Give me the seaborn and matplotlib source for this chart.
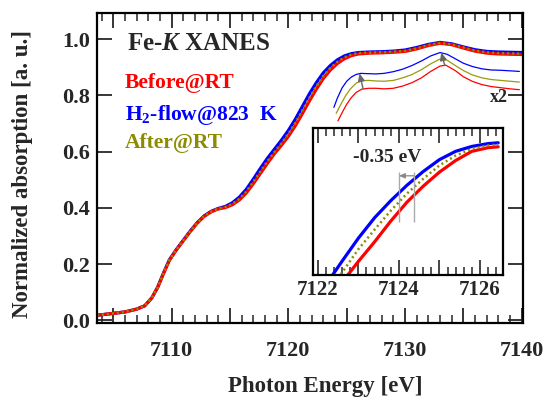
import matplotlib
matplotlib.use("Agg")
import matplotlib.pyplot as plt
from matplotlib.ticker import MultipleLocator, FuncFormatter
import seaborn as sns

# ---- Fe-K edge XANES, normalized ----
energy = [7103.6, 7105.0, 7106.0, 7107.0, 7107.7, 7108.3, 7108.8, 7109.3, 7109.8, 7110.4,
          7111.0, 7111.6, 7112.2, 7112.8, 7113.4, 7114.0, 7114.6, 7115.2, 7115.8, 7116.4,
          7117.0, 7117.6, 7118.2, 7118.8, 7119.4, 7120.0, 7120.6, 7121.2, 7121.8, 7122.4,
          7123.0, 7123.6, 7124.2, 7124.8, 7125.4, 7126.0, 7127.0, 7128.0, 7129.0, 7130.0,
          7131.0, 7132.0, 7133.0, 7134.0, 7135.0, 7136.0, 7137.0, 7138.0, 7139.0, 7140.1]

h2_flow = [0.018, 0.025, 0.030, 0.040, 0.052, 0.080, 0.118, 0.168, 0.215, 0.252,
           0.285, 0.318, 0.348, 0.372, 0.388, 0.398, 0.405, 0.418, 0.438, 0.466,
           0.502, 0.540, 0.576, 0.608, 0.640, 0.675, 0.715, 0.760, 0.805, 0.845,
           0.880, 0.906, 0.926, 0.940, 0.948, 0.952, 0.954, 0.955, 0.957, 0.961,
           0.970, 0.981, 0.988, 0.983, 0.972, 0.962, 0.956, 0.954, 0.953, 0.952]

before_rt = [0.018, 0.025, 0.030, 0.040, 0.052, 0.080, 0.117, 0.166, 0.213, 0.250,
             0.283, 0.316, 0.346, 0.370, 0.386, 0.396, 0.401, 0.411, 0.428, 0.453,
             0.486, 0.522, 0.558, 0.592, 0.622, 0.654, 0.692, 0.735, 0.780, 0.822,
             0.860, 0.890, 0.913, 0.930, 0.941, 0.947, 0.950, 0.951, 0.953, 0.956,
             0.965, 0.977, 0.985, 0.980, 0.968, 0.957, 0.950, 0.947, 0.946, 0.945]

after_rt = [0.018, 0.025, 0.030, 0.040, 0.052, 0.080, 0.117, 0.167, 0.214, 0.251,
            0.284, 0.317, 0.347, 0.371, 0.387, 0.397, 0.403, 0.414, 0.432, 0.458,
            0.493, 0.529, 0.565, 0.598, 0.629, 0.663, 0.702, 0.746, 0.791, 0.832,
            0.869, 0.897, 0.919, 0.935, 0.945, 0.950, 0.952, 0.953, 0.955, 0.958,
            0.967, 0.979, 0.986, 0.981, 0.970, 0.959, 0.953, 0.950, 0.949, 0.948]

# ---- post-edge region, difference magnified x2 and offset ----
x2_energy_h2 = [7123.9, 7124.2, 7124.6, 7125.0, 7125.4, 7125.8, 7126.2, 7126.8, 7127.5, 7128.2,
                7129.0, 7129.8, 7130.6, 7131.4, 7132.2, 7133.0, 7133.6, 7134.3, 7135.0, 7135.8,
                7136.6, 7137.4, 7138.2, 7139.0, 7139.8]
x2_h2_flow = [0.757, 0.790, 0.826, 0.850, 0.865, 0.874, 0.878, 0.877, 0.876, 0.878,
              0.884, 0.893, 0.906, 0.922, 0.940, 0.952, 0.946, 0.930, 0.914, 0.902,
              0.894, 0.890, 0.889, 0.887, 0.885]

x2_energy_after = [7124.1, 7124.5, 7124.9, 7125.3, 7125.8, 7126.3, 7126.9, 7127.5, 7128.2, 7129.0,
                   7129.8, 7130.6, 7131.4, 7132.2, 7133.0, 7133.6, 7134.3, 7135.0, 7135.8, 7136.6,
                   7137.4, 7138.2, 7139.0, 7139.8]
x2_after_rt = [0.736, 0.768, 0.798, 0.822, 0.843, 0.852, 0.853, 0.851, 0.850, 0.853,
               0.862, 0.874, 0.891, 0.912, 0.929, 0.925, 0.906, 0.888, 0.872, 0.862,
               0.856, 0.853, 0.850, 0.847]

x2_energy_before = [7124.25, 7124.6, 7125.0, 7125.4, 7125.8, 7126.3, 7126.9, 7127.5, 7128.2, 7129.0,
                    7129.8, 7130.6, 7131.4, 7132.2, 7133.0, 7133.5, 7134.3, 7135.0, 7135.8, 7136.6,
                    7137.4, 7138.2, 7139.0, 7139.8]
x2_before_rt = [0.709, 0.738, 0.768, 0.792, 0.810, 0.822, 0.825, 0.825, 0.823, 0.825,
                0.833, 0.845, 0.862, 0.885, 0.904, 0.907, 0.888, 0.866, 0.849, 0.838,
                0.831, 0.827, 0.823, 0.820]

# arrows marking the change between Before@RT and H2-flow (x2 curves)
arrow_tails = [(7126.4, 0.824), (7133.4, 0.907)]
arrow_heads = [(7126.1, 0.878), (7133.1, 0.952)]

# ---- edge close-up ----
inset_energy = [7122.2, 7122.6, 7123.0, 7123.4, 7123.8, 7124.2, 7124.6, 7125.0,
                7125.4, 7125.8, 7126.2, 7126.45]
inset_h2_flow = [0.832, 0.8513, 0.870, 0.8867, 0.9007, 0.9133, 0.9245, 0.9342,
                 0.9410, 0.9450, 0.9473, 0.9480]
inset_after_rt = [0.824, 0.842, 0.861, 0.877, 0.8925, 0.9065, 0.9185, 0.9295,
                  0.9375, 0.9430, 0.9458, 0.9465]
inset_before_rt = [0.816, 0.834, 0.851, 0.867, 0.884, 0.8995, 0.9125, 0.924,
                   0.9335, 0.941, 0.944, 0.9447]
shift_marks = [7124.0, 7124.37]
shift_label = "-0.35 eV"

BLUE = "#0000ff"
RED = "#ff0000"
OLIVE = "#8c8c00"
OLIVE_THIN = "#9a9a10"

sns.set_style("ticks")
plt.rcParams["font.family"] = ["Liberation Serif", "DejaVu Serif"]
plt.rcParams["font.weight"] = "bold"
plt.rcParams["mathtext.fontset"] = "custom"
plt.rcParams["mathtext.rm"] = "Liberation Serif:bold"
plt.rcParams["mathtext.it"] = "Liberation Serif:bold:italic"
plt.rcParams["mathtext.bf"] = "Liberation Serif:bold"

fig = plt.figure(figsize=(5.51, 3.99), dpi=100)
ax = fig.add_axes([0.176, 0.190, 0.773, 0.777])

sns.lineplot(x=energy, y=h2_flow, ax=ax, color=BLUE, lw=2.3, sort=False, estimator=None)
sns.lineplot(x=energy, y=before_rt, ax=ax, color=RED, lw=2.3, sort=False, estimator=None)
sns.lineplot(x=energy, y=after_rt, ax=ax, color=OLIVE, lw=1.8, sort=False, estimator=None,
             linestyle=(0, (0.8, 1.2)))

sns.lineplot(x=x2_energy_h2, y=x2_h2_flow, ax=ax, color=BLUE, lw=0.9, sort=False, estimator=None)
sns.lineplot(x=x2_energy_after, y=x2_after_rt, ax=ax, color=OLIVE_THIN, lw=0.9, sort=False,
             estimator=None)
sns.lineplot(x=x2_energy_before, y=x2_before_rt, ax=ax, color=RED, lw=0.9, sort=False,
             estimator=None)
for tail, head in zip(arrow_tails, arrow_heads):
    ax.annotate("", xy=head, xytext=tail,
                arrowprops=dict(arrowstyle="-|>,head_length=0.45,head_width=0.2",
                                color="#666666", lw=1.0, shrinkA=0, shrinkB=0))

ax.set_xlim(7103.6, 7140.1)
ax.set_ylim(-0.01, 1.092)
ax.xaxis.set_major_locator(MultipleLocator(5))
ax.xaxis.set_minor_locator(MultipleLocator(1))
ax.xaxis.set_major_formatter(FuncFormatter(lambda v, p: f"{v:.0f}" if round(v) % 10 == 0 else ""))
ax.yaxis.set_major_locator(MultipleLocator(0.2))
ax.yaxis.set_major_formatter(FuncFormatter(lambda v, p: f"{v:.1f}"))
ax.tick_params(axis="x", which="major", direction="in", top=True, length=11, width=1.3,
               labelsize=16, pad=13)
ax.tick_params(axis="x", which="minor", direction="in", top=True, length=6, width=1.1)
ax.tick_params(axis="y", which="major", direction="in", right=True, length=11, width=1.3,
               labelsize=16, pad=5)
for s in ax.spines.values():
    s.set_linewidth(1.6)
    s.set_color("black")

ax.set_xlabel("Photon Energy [eV]", fontsize=16.5, fontweight="bold")
ax.set_ylabel("Normalized absorption [a. u.]", fontsize=16.5, fontweight="bold")
ax.xaxis.set_label_coords(0.535, -0.170)
ax.yaxis.set_label_coords(-0.150, 0.48)

ax.text(0.070, 0.903, "Fe-$\\mathit{K}$ XANES", transform=ax.transAxes, fontsize=18,
        fontweight="bold", va="center", ha="left")
ax.text(0.066, 0.774, "Before@RT", transform=ax.transAxes, fontsize=15.5, color=RED,
        fontweight="bold", va="center", ha="left")
ax.text(0.066, 0.671, "H$_\\mathrm{2}$-flow@823  K", transform=ax.transAxes, fontsize=15.5,
        color=BLUE, fontweight="bold", va="center", ha="left")
ax.text(0.066, 0.581, "After@RT", transform=ax.transAxes, fontsize=15.5, color=OLIVE,
        fontweight="bold", va="center", ha="left")
ax.text(0.944, 0.729, "x2", transform=ax.transAxes, fontsize=13, fontweight="bold",
        va="center", ha="center")

# ---- inset: edge position shift ----
ins = fig.add_axes([0.568, 0.311, 0.345, 0.368])
sns.lineplot(x=inset_energy, y=inset_h2_flow, ax=ins, color=BLUE, lw=2.3, sort=False,
             estimator=None)
sns.lineplot(x=inset_energy, y=inset_before_rt, ax=ins, color=RED, lw=2.3, sort=False,
             estimator=None)
sns.lineplot(x=inset_energy, y=inset_after_rt, ax=ins, color=OLIVE, lw=1.8, sort=False,
             estimator=None, linestyle=(0, (0.8, 1.2)))
ins.set_xlim(7121.88, 7126.57)
ins.set_ylim(0.84, 0.96)
ins.vlines(shift_marks, 0.883, 0.924, color="#aaaaaa", lw=1.0)
ins.annotate("", xy=(shift_marks[0], 0.921), xytext=(shift_marks[1], 0.921),
             arrowprops=dict(arrowstyle="-|>,head_length=0.35,head_width=0.15",
                             color="#888888", lw=0.9, shrinkA=0, shrinkB=0))
ins.text(7123.7, 0.936, shift_label, fontsize=14, fontweight="bold", ha="center", va="center")

ins.xaxis.set_major_locator(MultipleLocator(1))
ins.xaxis.set_minor_locator(MultipleLocator(0.2))
ins.xaxis.set_major_formatter(FuncFormatter(lambda v, p: f"{v:.0f}" if round(v) % 2 == 0 else ""))
ins.set_yticks([])
ins.tick_params(axis="x", which="major", direction="in", top=True, length=11, width=1.2,
                labelsize=15, pad=4)
ins.tick_params(axis="x", which="minor", direction="in", top=True, length=6, width=1.1)
ins.set_xlabel("")
ins.set_ylabel("")
for s in ins.spines.values():
    s.set_linewidth(1.6)
    s.set_color("black")

fig.savefig("out.png", dpi=100)
